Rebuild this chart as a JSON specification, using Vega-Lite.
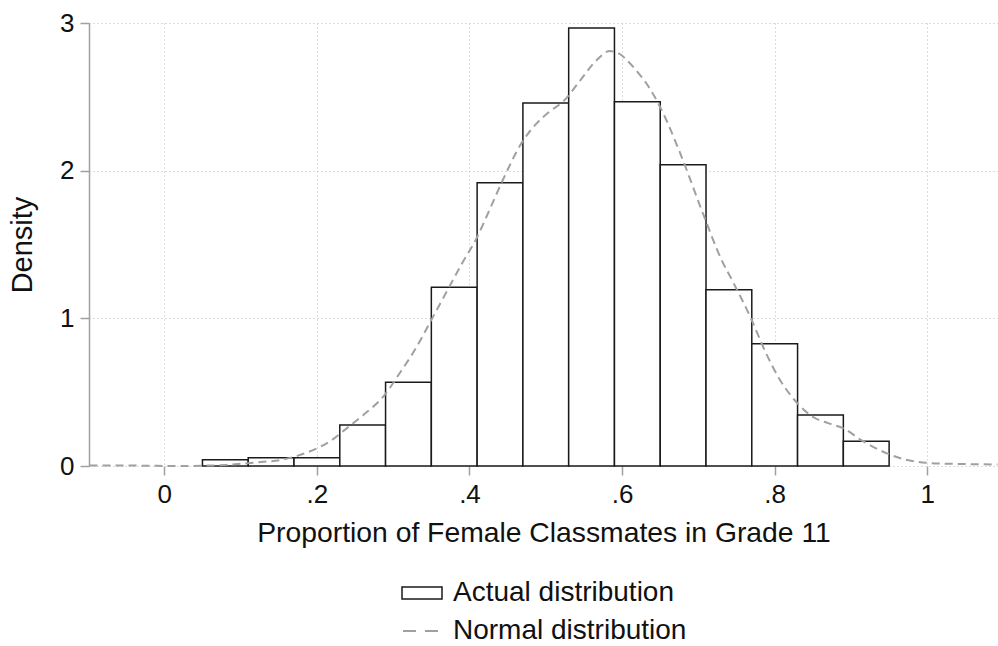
{
  "$schema": "https://vega.github.io/schema/vega-lite/v6.json",
  "autosize": {"type": "none"},
  "width": 909,
  "height": 443,
  "padding": {"left": 89, "top": 23, "right": 0, "bottom": 180},
  "background": "white",
  "config": {
    "font": "Liberation Sans",
    "view": {"stroke": null},
    "axis": {
      "labelFont": "Liberation Sans",
      "titleFont": "Liberation Sans",
      "labelColor": "#111",
      "titleColor": "#111",
      "titleFontWeight": "normal",
      "domainColor": "#a0a0a0",
      "domainWidth": 1.5,
      "tickColor": "#a0a0a0",
      "tickWidth": 1.5,
      "tickSize": 9,
      "gridColor": "#bbbbbb",
      "gridDash": [1, 3],
      "gridWidth": 1
    },
    "legend": {"labelFont": "Liberation Sans", "labelFontSize": 28, "labelColor": "#111", "padding": 0, "labelLimit": 0}
  },
  "datasets": {
    "bars": [
      {"x0": 0.05, "x1": 0.11, "density": 0.043, "series": "Actual distribution"},
      {"x0": 0.11, "x1": 0.17, "density": 0.056, "series": "Actual distribution"},
      {"x0": 0.17, "x1": 0.23, "density": 0.056, "series": "Actual distribution"},
      {"x0": 0.23, "x1": 0.29, "density": 0.278, "series": "Actual distribution"},
      {"x0": 0.29, "x1": 0.35, "density": 0.567, "series": "Actual distribution"},
      {"x0": 0.35, "x1": 0.41, "density": 1.21, "series": "Actual distribution"},
      {"x0": 0.41, "x1": 0.47, "density": 1.919, "series": "Actual distribution"},
      {"x0": 0.47, "x1": 0.53, "density": 2.458, "series": "Actual distribution"},
      {"x0": 0.53, "x1": 0.59, "density": 2.966, "series": "Actual distribution"},
      {"x0": 0.59, "x1": 0.65, "density": 2.467, "series": "Actual distribution"},
      {"x0": 0.65, "x1": 0.71, "density": 2.04, "series": "Actual distribution"},
      {"x0": 0.71, "x1": 0.77, "density": 1.194, "series": "Actual distribution"},
      {"x0": 0.77, "x1": 0.83, "density": 0.828, "series": "Actual distribution"},
      {"x0": 0.83, "x1": 0.89, "density": 0.345, "series": "Actual distribution"},
      {"x0": 0.89, "x1": 0.95, "density": 0.167, "series": "Actual distribution"}
    ],
    "curve": [
      {"x": -0.098, "y": 0.004}, {"x": -0.07, "y": 0.004}, {"x": -0.04, "y": 0.003},
      {"x": -0.01, "y": 0.001}, {"x": 0.02, "y": 0.0}, {"x": 0.05, "y": 0.002},
      {"x": 0.08, "y": 0.007}, {"x": 0.108, "y": 0.018}, {"x": 0.13, "y": 0.028},
      {"x": 0.152, "y": 0.04}, {"x": 0.175, "y": 0.07}, {"x": 0.195, "y": 0.108},
      {"x": 0.218, "y": 0.17}, {"x": 0.239, "y": 0.255}, {"x": 0.262, "y": 0.35},
      {"x": 0.287, "y": 0.47}, {"x": 0.31, "y": 0.64}, {"x": 0.33, "y": 0.8},
      {"x": 0.348, "y": 0.97}, {"x": 0.37, "y": 1.18}, {"x": 0.39, "y": 1.37},
      {"x": 0.41, "y": 1.55}, {"x": 0.425, "y": 1.72}, {"x": 0.444, "y": 1.94},
      {"x": 0.468, "y": 2.185}, {"x": 0.488, "y": 2.32}, {"x": 0.505, "y": 2.4},
      {"x": 0.523, "y": 2.47}, {"x": 0.545, "y": 2.61}, {"x": 0.565, "y": 2.74},
      {"x": 0.584, "y": 2.81}, {"x": 0.597, "y": 2.79}, {"x": 0.606, "y": 2.75},
      {"x": 0.62, "y": 2.67}, {"x": 0.632, "y": 2.59}, {"x": 0.65, "y": 2.43},
      {"x": 0.676, "y": 2.12}, {"x": 0.706, "y": 1.71}, {"x": 0.73, "y": 1.4},
      {"x": 0.746, "y": 1.24}, {"x": 0.768, "y": 1.01}, {"x": 0.789, "y": 0.76},
      {"x": 0.805, "y": 0.6}, {"x": 0.826, "y": 0.447}, {"x": 0.851, "y": 0.33},
      {"x": 0.87, "y": 0.29}, {"x": 0.89, "y": 0.255}, {"x": 0.915, "y": 0.17},
      {"x": 0.947, "y": 0.086}, {"x": 0.97, "y": 0.045}, {"x": 0.999, "y": 0.022},
      {"x": 1.03, "y": 0.015}, {"x": 1.06, "y": 0.012}, {"x": 1.092, "y": 0.01}
    ]
  },
  "layer": [
    {
      "data": {"name": "bars"},
      "mark": {"type": "bar", "stroke": "#1a1a1a", "strokeWidth": 1.5},
      "encoding": {
        "x": {
          "field": "x0", "type": "quantitative",
          "scale": {"domain": [-0.0987, 1.0927], "nice": false, "zero": false},
          "axis": {
            "values": [0, 0.2, 0.4, 0.6, 0.8, 1],
            "labelExpr": "replace(format(datum.value, '.1~f'), '0.', '.')",
            "domain": false,
            "grid": true,
            "labelFontSize": 26,
            "labelPadding": 6,
            "title": "Proportion of Female Classmates in Grade 11",
            "titleFontSize": 28.3,
            "titlePadding": 12
          }
        },
        "x2": {"field": "x1"},
        "y": {
          "field": "density", "type": "quantitative",
          "scale": {"domain": [0, 3], "nice": false},
          "axis": {
            "values": [0, 1, 2, 3],
            "format": "d",
            "grid": true,
            "labelFontSize": 26,
            "labelPadding": 6,
            "title": "Density",
            "titleFontSize": 29,
            "titlePadding": 22
          }
        },
        "y2": {"datum": 0},
        "fill": {
          "field": "series", "type": "nominal",
          "scale": {"domain": ["Actual distribution"], "range": ["white"]},
          "legend": {
            "title": null,
            "orient": "none",
            "legendX": 312,
            "legendY": 549,
            "symbolType": "M-1,-0.3H1V0.3H-1Z",
            "symbolSize": 1600,
            "symbolStrokeColor": "#1a1a1a",
            "symbolStrokeWidth": 1.5,
            "symbolFillColor": "white",
            "labelOffset": 10
          }
        }
      }
    },
    {
      "data": {"name": "curve"},
      "mark": {"type": "line", "strokeDash": [8, 5], "strokeWidth": 2, "interpolate": "monotone"},
      "encoding": {
        "x": {"field": "x", "type": "quantitative"},
        "y": {"field": "y", "type": "quantitative"},
        "stroke": {
          "datum": "Normal distribution",
          "scale": {"domain": ["Normal distribution"], "range": ["#a0a0a0"]},
          "legend": {
            "title": null,
            "orient": "none",
            "legendX": 312,
            "legendY": 587,
            "symbolType": "stroke",
            "symbolSize": 1600,
            "symbolStrokeWidth": 2,
            "symbolDash": [13, 9],
            "symbolDashOffset": -1,
            "labelOffset": 10
          }
        }
      }
    },
    {
      "mark": {"type": "rule", "stroke": "#a0a0a0", "strokeWidth": 1.5},
      "encoding": {
        "x": {"datum": -0.0987},
        "x2": {"datum": 1},
        "y": {"datum": 0}
      }
    }
  ]
}
